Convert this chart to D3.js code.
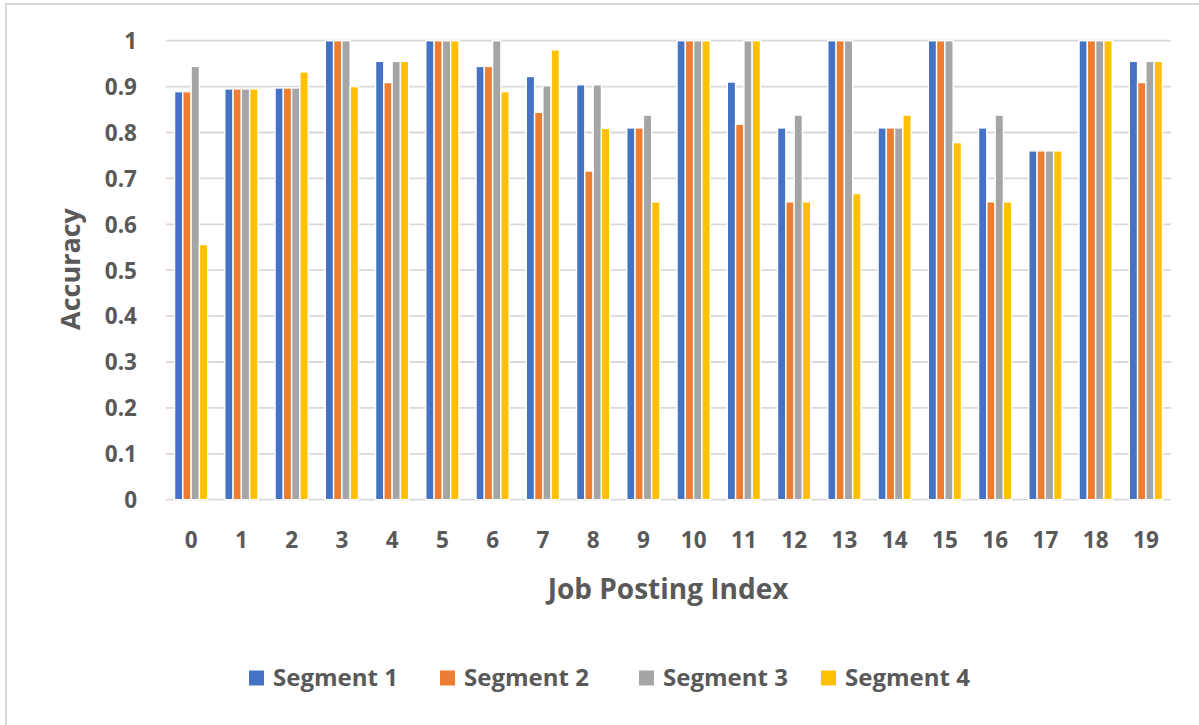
<!DOCTYPE html>
<html>
<head>
<meta charset="utf-8">
<script src="https://cdn.jsdelivr.net/npm/d3@7"></script>
<style>
  html, body { margin: 0; padding: 0; background: #fff; }
  svg { display: block; }
  text { font-family: "Open Sans", "Lato", sans-serif; font-weight: 700; fill: #595959; }
</style>
</head>
<body>
<svg id="chart" width="1199" height="725"></svg>
<script>
// Job posting indices along the x axis
const categories = ["0","1","2","3","4","5","6","7","8","9","10","11","12","13","14","15","16","17","18","19"];

// Accuracy per segment for each job posting
const segment1 = [0.889,0.895,0.897,1,0.955,1,0.944,0.922,0.904,0.810,1,0.910,0.810,1,0.810,1,0.810,0.760,1,0.955];
const segment2 = [0.889,0.895,0.897,1,0.909,1,0.944,0.844,0.716,0.810,1,0.818,0.649,1,0.810,1,0.649,0.760,1,0.909];
const segment3 = [0.944,0.895,0.897,1,0.955,1,1,0.902,0.904,0.838,1,1,0.838,1,0.810,1,0.838,0.760,1,0.955];
const segment4 = [0.556,0.895,0.932,0.900,0.955,1,0.889,0.980,0.809,0.649,1,1,0.649,0.667,0.838,0.778,0.649,0.760,1,0.955];

const seriesNames = ["Segment 1","Segment 2","Segment 3","Segment 4"];
const seriesValues = [segment1, segment2, segment3, segment4];
const seriesColors = ["#4472C4","#ED7D31","#A5A5A5","#FFC000"];

const yTickValues = [0,0.1,0.2,0.3,0.4,0.5,0.6,0.7,0.8,0.9,1];
const yTickLabels = ["0","0.1","0.2","0.3","0.4","0.5","0.6","0.7","0.8","0.9","1"];

const svg = d3.select("#chart");

// Outer chart frame
svg.append("rect")
  .attr("x", 6).attr("y", 4)
  .attr("width", 1220).attr("height", 760)
  .attr("fill", "none")
  .attr("stroke", "#d9d9d9")
  .attr("stroke-width", 2);

const plot = { left: 166, right: 1171, top: 40.7, bottom: 499.7 };

const x0 = d3.scaleBand()
  .domain(categories)
  .range([plot.left, plot.right])
  .paddingInner(0.34)
  .paddingOuter(0.17);

const x1 = d3.scaleBand()
  .domain(seriesNames)
  .range([0, x0.bandwidth()]);

const y = d3.scaleLinear()
  .domain([0, 1])
  .range([plot.bottom, plot.top]);

// Horizontal gridlines
const grid = svg.append("g").attr("class", "grid");
grid.selectAll("line")
  .data(yTickValues)
  .join("line")
  .attr("x1", plot.left).attr("x2", plot.right)
  .attr("y1", d => y(d)).attr("y2", d => y(d))
  .attr("stroke", "#d9d9d9")
  .attr("stroke-width", 1.8);

// Y axis tick labels
const yAxis = d3.axisLeft(y)
  .tickValues(yTickValues)
  .tickFormat((d, i) => yTickLabels[i])
  .tickSize(0)
  .tickPadding(0);
const yG = svg.append("g")
  .attr("transform", `translate(137,0)`)
  .call(yAxis);
yG.select(".domain").remove();
yG.selectAll("text")
  .attr("font-size", 22.5)
  .attr("dy", "0.35em")
  .style("font-family", '"Open Sans", sans-serif')
  .style("font-weight", 700)
  .attr("fill", "#595959");

// X axis tick labels
const xAxis = d3.axisBottom(x0).tickSize(0).tickPadding(0);
const xG = svg.append("g")
  .attr("transform", `translate(0,${plot.bottom})`)
  .call(xAxis);
xG.select(".domain").remove();
xG.selectAll("text")
  .attr("font-size", 22.5)
  .attr("y", 48.5)
  .attr("dy", 0)
  .style("font-family", '"Open Sans", sans-serif')
  .style("font-weight", 700)
  .attr("fill", "#595959");

// Bars
const groups = svg.append("g").attr("class", "bars")
  .selectAll("g")
  .data(categories)
  .join("g")
  .attr("transform", d => `translate(${x0(d)},0)`);

groups.selectAll("rect")
  .data((d, i) => seriesNames.map((s, k) => ({ series: s, value: seriesValues[k][i], color: seriesColors[k] })))
  .join("rect")
  .attr("x", d => x1(d.series))
  .attr("width", x1.bandwidth())
  .attr("y", d => y(d.value))
  .attr("height", d => y(0) - y(d.value))
  .attr("fill", d => d.color)
  .attr("stroke", "#ffffff")
  .attr("stroke-width", 1.4);

// Axis titles
svg.append("text")
  .attr("transform", "translate(80,269) rotate(-90)")
  .attr("text-anchor", "middle")
  .attr("font-size", 27)
  .text("Accuracy");

svg.append("text")
  .attr("x", 668)
  .attr("y", 599)
  .attr("text-anchor", "middle")
  .attr("font-size", 28)
  .text("Job Posting Index");

// Legend
const legendX = [249, 440, 639, 821];
const legend = svg.append("g").attr("class", "legend")
  .selectAll("g")
  .data(seriesNames)
  .join("g")
  .attr("transform", (d, i) => `translate(${legendX[i]},678)`);

legend.append("rect")
  .attr("x", 0).attr("y", -7.5)
  .attr("width", 15).attr("height", 15)
  .attr("fill", (d, i) => seriesColors[i]);

legend.append("text")
  .attr("x", 24)
  .attr("y", 0)
  .attr("dy", "0.35em")
  .attr("font-size", 24)
  .text(d => d);
</script>
</body>
</html>
